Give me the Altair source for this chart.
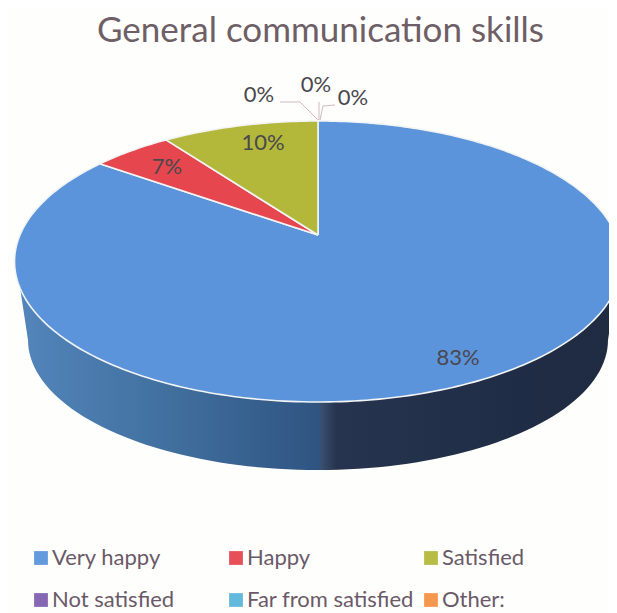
import math
import altair as alt
import pandas as pd

# ---- chart values
categories = ["Very happy", "Happy", "Satisfied", "Not satisfied", "Far from satisfied", "Other:"]
percent_labels = ["83%", "7%", "10%", "0%", "0%", "0%"]
drawn_share = [84.9, 5.1, 10.0, 0.0, 0.0, 0.0]   # share of the circle each drawn slice occupies
colors = ["#5B94DB", "#E6474F", "#B3B83B", "#7F5FB0", "#5BB5DA", "#F59145"]

# ---- layout (picture pixels)
APEX = (318, 235)
TOP_RY, BOTTOM_RY, K_RX = 114, 167, 298
K = (BOTTOM_RY - TOP_RY) / (BOTTOM_RY + TOP_RY)
A = TOP_RY * (1 + K)
BASE = dict(cx=318, cy=340, rx=290, ry=130)
label_x = [458, 167, 263, 259, 316, 353]
label_y = [358, 167, 143, 95, 85, 98]
leaders = [
    ("a", [280, 300, 318], [102, 102, 120]),
    ("b", [319, 319], [102, 120]),
    ("c", [335, 323, 320], [105, 106, 120]),
]


def rim(deg):
    """Point of the tilted disc's rim; deg runs clockwise from the top."""
    t = math.radians(deg)
    u, v = math.sin(t), math.cos(t)
    d = 1 + K * v
    return APEX[0] + K_RX * u / d, APEX[1] - A * v / d


# first slice begins at the top and runs clockwise
rows, start = [], 0.0
for name, share in zip(categories, drawn_share):
    if share <= 0:
        continue
    end = start + share * 3.6
    n = max(2, int(end - start))
    pts = [APEX] + [rim(start + (end - start) * j / n) for j in range(n + 1)] + [APEX]
    rows += [dict(cat=name, i=i, x=p[0], y=p[1]) for i, p in enumerate(pts)]
    start = end
top = pd.DataFrame(rows)

# wall of the disc: front half of the rim, back along the base ellipse
wall_top = [rim(d) for d in range(262, 96, -2)]
wall_base = [(BASE["cx"] + BASE["rx"] * math.cos(math.radians(d)),
              BASE["cy"] + BASE["ry"] * math.sin(math.radians(d))) for d in range(0, 181, 2)]
wall = pd.DataFrame([dict(i=i, x=p[0], y=p[1]) for i, p in enumerate(wall_base + wall_top + wall_base[:1])])

x_enc = alt.X("x:Q", axis=None, scale=alt.Scale(domain=[8, 609], nice=False, zero=False))
y_enc = alt.Y("y:Q", axis=None, scale=alt.Scale(domain=[613, 58], nice=False, zero=False))

side = alt.Chart(wall).mark_line(
    strokeWidth=0,
    fill=alt.Gradient(
        gradient="linear", x1=0, x2=1, y1=0, y2=0,
        stops=[
            alt.GradientStop(offset=0.0, color="#5486BC"),
            alt.GradientStop(offset=0.25, color="#41709F"),
            alt.GradientStop(offset=0.5, color="#2F5482"),
            alt.GradientStop(offset=0.505, color="#3A4F70"),
            alt.GradientStop(offset=0.53, color="#27344F"),
            alt.GradientStop(offset=0.85, color="#1F2C45"),
            alt.GradientStop(offset=1.0, color="#1E2B40"),
        ],
    ),
).encode(x=x_enc, y=y_enc, order="i:O")

slices = alt.Chart(top).mark_line(stroke="#F2F4F5", strokeWidth=1.6, strokeJoin="round").encode(
    x=x_enc,
    y=y_enc,
    order="i:Q",
    fill=alt.Fill(
        "cat:N",
        scale=alt.Scale(domain=categories, range=colors),
        legend=alt.Legend(
            title=None, orient="none", legendX=22, legendY=489, columns=3, gridAlign="all",
            direction="horizontal",
            symbolType="square", symbolSize=190, symbolStrokeWidth=0, symbolOpacity=0.95,
            labelFont="Lato", labelFontSize=22, labelColor="#6A5A68", labelLimit=260,
            columnPadding=6, rowPadding=20, labelOffset=0,
        ),
    ),
)

leader_df = pd.DataFrame(
    [dict(k=k, i=i, x=px, y=py) for k, xs, ys in leaders for i, (px, py) in enumerate(zip(xs, ys))]
)
leader = alt.Chart(leader_df).mark_line(stroke="#D3B9BC", strokeWidth=1).encode(
    x=x_enc, y=y_enc, detail="k:N", order="i:Q"
)

label_df = pd.DataFrame(dict(x=label_x, y=label_y, t=percent_labels))
labels = alt.Chart(label_df).mark_text(
    font="Lato", fontSize=22, color="#4A484E", align="center", baseline="middle"
).encode(x=x_enc, y=y_enc, text="t:N")

chart = (
    alt.layer(side, slices, leader, labels)
    .properties(
        width=601,
        height=555,
        padding={"left": 0, "right": 0, "top": 50, "bottom": 0},
        autosize=alt.AutoSizeParams(type="none"),
        background="#FEFEFC",
        title=alt.Title(
            "General communication skills", font="Lato", fontSize=35, fontWeight="normal",
            color="#6E5F66", anchor="start", offset=9, dx=89,
        ),
    )
    .configure_view(stroke=None)
)
chart.save("out.html", embed_options={"renderer": "svg", "actions": False})
